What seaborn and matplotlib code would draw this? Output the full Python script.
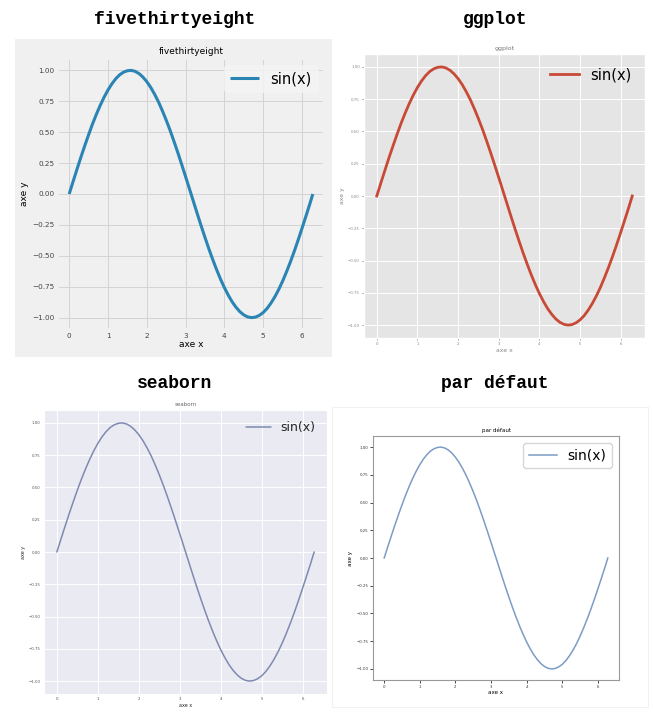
import matplotlib
matplotlib.use("Agg")
import matplotlib.pyplot as plt
import seaborn as sns
import pandas as pd
from matplotlib.patches import Rectangle

# values (same curve in all four panels)
x_vals = [0.0, 0.1, 0.2, 0.3, 0.4, 0.5, 0.6, 0.7, 0.8, 0.9, 1.0, 1.1, 1.2, 1.3, 1.4,
          1.5, 1.6, 1.7, 1.8, 1.9, 2.0, 2.1, 2.2, 2.3, 2.4, 2.5, 2.6, 2.7, 2.8, 2.9,
          3.0, 3.1, 3.2, 3.3, 3.4, 3.5, 3.6, 3.7, 3.8, 3.9, 4.0, 4.1, 4.2, 4.3, 4.4,
          4.5, 4.6, 4.7, 4.8, 4.9, 5.0, 5.1, 5.2, 5.3, 5.4, 5.5, 5.6, 5.7, 5.8, 5.9,
          6.0, 6.1, 6.2, 6.28]
y_vals = [0.000, 0.100, 0.199, 0.296, 0.389, 0.479, 0.565, 0.644, 0.717, 0.783,
          0.841, 0.891, 0.932, 0.964, 0.985, 0.997, 1.000, 0.992, 0.974, 0.946,
          0.909, 0.863, 0.808, 0.746, 0.675, 0.598, 0.516, 0.427, 0.335, 0.239,
          0.141, 0.042, -0.058, -0.158, -0.256, -0.351, -0.443, -0.530, -0.612,
          -0.688, -0.757, -0.818, -0.872, -0.916, -0.952, -0.978, -0.994, -1.000,
          -0.996, -0.982, -0.959, -0.926, -0.883, -0.832, -0.773, -0.706, -0.631,
          -0.551, -0.465, -0.374, -0.279, -0.182, -0.083, 0.000]
x_ticks = [0, 1, 2, 3, 4, 5, 6]
y_ticks = [1.00, 0.75, 0.50, 0.25, 0.00, -0.25, -0.50, -0.75, -1.00]
styles = ["fivethirtyeight", "ggplot", "seaborn", "par défaut"]

df = pd.DataFrame({"x": x_vals, "y": y_vals})

W, H = 653, 721
fig = plt.figure(figsize=(W / 100, H / 100), dpi=100)
fig.patch.set_facecolor("white")


def px_rect(x0, y0, x1, y1):
    return [x0 / W, 1 - y1 / H, (x1 - x0) / W, (y1 - y0) / H]


# grey screenshot background of the fivethirtyeight panel
fig.patches.append(Rectangle((15 / W, 1 - 357 / H), (332 - 15) / W, (357 - 39) / H,
                             transform=fig.transFigure, facecolor="#f0f0f0",
                             edgecolor="none", zorder=-5))
# faint frame around the default panel screenshot
fig.patches.append(Rectangle((332 / W, 1 - 707 / H), (648 - 332) / W, (707 - 407) / H,
                             transform=fig.transFigure, facecolor="none",
                             edgecolor="#f1f1f1", lw=0.8, zorder=-5))

# big titles above each screenshot
for name, cx, cy in zip(styles, [175, 495, 175, 495], [20, 20, 383, 383]):
    fig.text(cx / W, 1 - cy / H, name, ha="center", va="center",
             family="Liberation Mono", weight="bold", fontsize=13)


def finish(ax, title, tsize, lsize, ticksize, legsize, tickcolor, frame=True):
    ax.set_xlim(-0.314, 6.594)
    ax.set_ylim(-1.1, 1.1)
    ax.set_xticks(x_ticks)
    ax.set_yticks(y_ticks)
    ax.set_yticklabels([f"{v:.2f}".replace("-", "\u2212") for v in y_ticks])
    ax.tick_params(labelsize=ticksize, labelcolor=tickcolor)
    ax.set_title(title, fontsize=tsize, pad=3)
    ax.set_xlabel("axe x", fontsize=lsize, labelpad=1)
    ax.set_ylabel("axe y", fontsize=lsize, labelpad=2)
    return ax.legend(loc="upper right", fontsize=legsize, frameon=frame)


# fivethirtyeight
with plt.style.context("fivethirtyeight"):
    ax1 = fig.add_axes(px_rect(57, 58, 325, 330))
    sns.lineplot(data=df, x="x", y="y", ax=ax1, color="#2a84b4", lw=2.2, label="sin(x)")
    ax1.grid(True, color="#d4d4d4", lw=0.7)
    leg = finish(ax1, "fivethirtyeight", 6.5, 6.5, 5.2, 10.5, "#444444")
    leg.get_frame().set_facecolor("#f5f5f5")
    leg.get_frame().set_edgecolor("#f5f5f5")
    ax1.tick_params(pad=2)
    ax1.set_facecolor("#f0f0f0")

# ggplot
with plt.style.context("ggplot"):
    ax2 = fig.add_axes(px_rect(364, 54, 645, 338))
    sns.lineplot(data=df, x="x", y="y", ax=ax2, color="#c84a36", lw=2.0, label="sin(x)")
    ax2.grid(True, color="white", lw=0.7)
    finish(ax2, "ggplot", 4.5, 4.4, 2.8, 10.5, "#888888", frame=False)
    ax2.tick_params(length=1.5, width=0.4, pad=1.5)
    ax2.title.set_color("#777777")
    ax2.xaxis.label.set_color("#888888")
    ax2.yaxis.label.set_color("#888888")

# seaborn
with sns.axes_style("darkgrid"):
    ax3 = fig.add_axes(px_rect(44, 410, 327, 694))
    sns.lineplot(data=df, x="x", y="y", ax=ax3, color="#7f8ab0", lw=1.1, label="sin(x)")
    ax3.grid(True, color="white", lw=0.7)
    finish(ax3, "seaborn", 4, 3.5, 2.8, 9, "#555555", frame=False)
    ax3.tick_params(length=0, pad=2.5)
    ax3.title.set_color("#666666")

# matplotlib default
with plt.style.context("default"):
    ax4 = fig.add_axes(px_rect(373, 436, 619, 680))
    sns.lineplot(data=df, x="x", y="y", ax=ax4, color="#7c9cc4", lw=1.1, label="sin(x)")
    finish(ax4, "par défaut", 4, 4, 2.8, 10, "#333333")
    ax4.tick_params(length=2, width=0.5, pad=1.5)
    for s in ax4.spines.values():
        s.set_color("#999999")
        s.set_linewidth(0.8)
    ax4.grid(False)

fig.savefig("out.png", dpi=100)
